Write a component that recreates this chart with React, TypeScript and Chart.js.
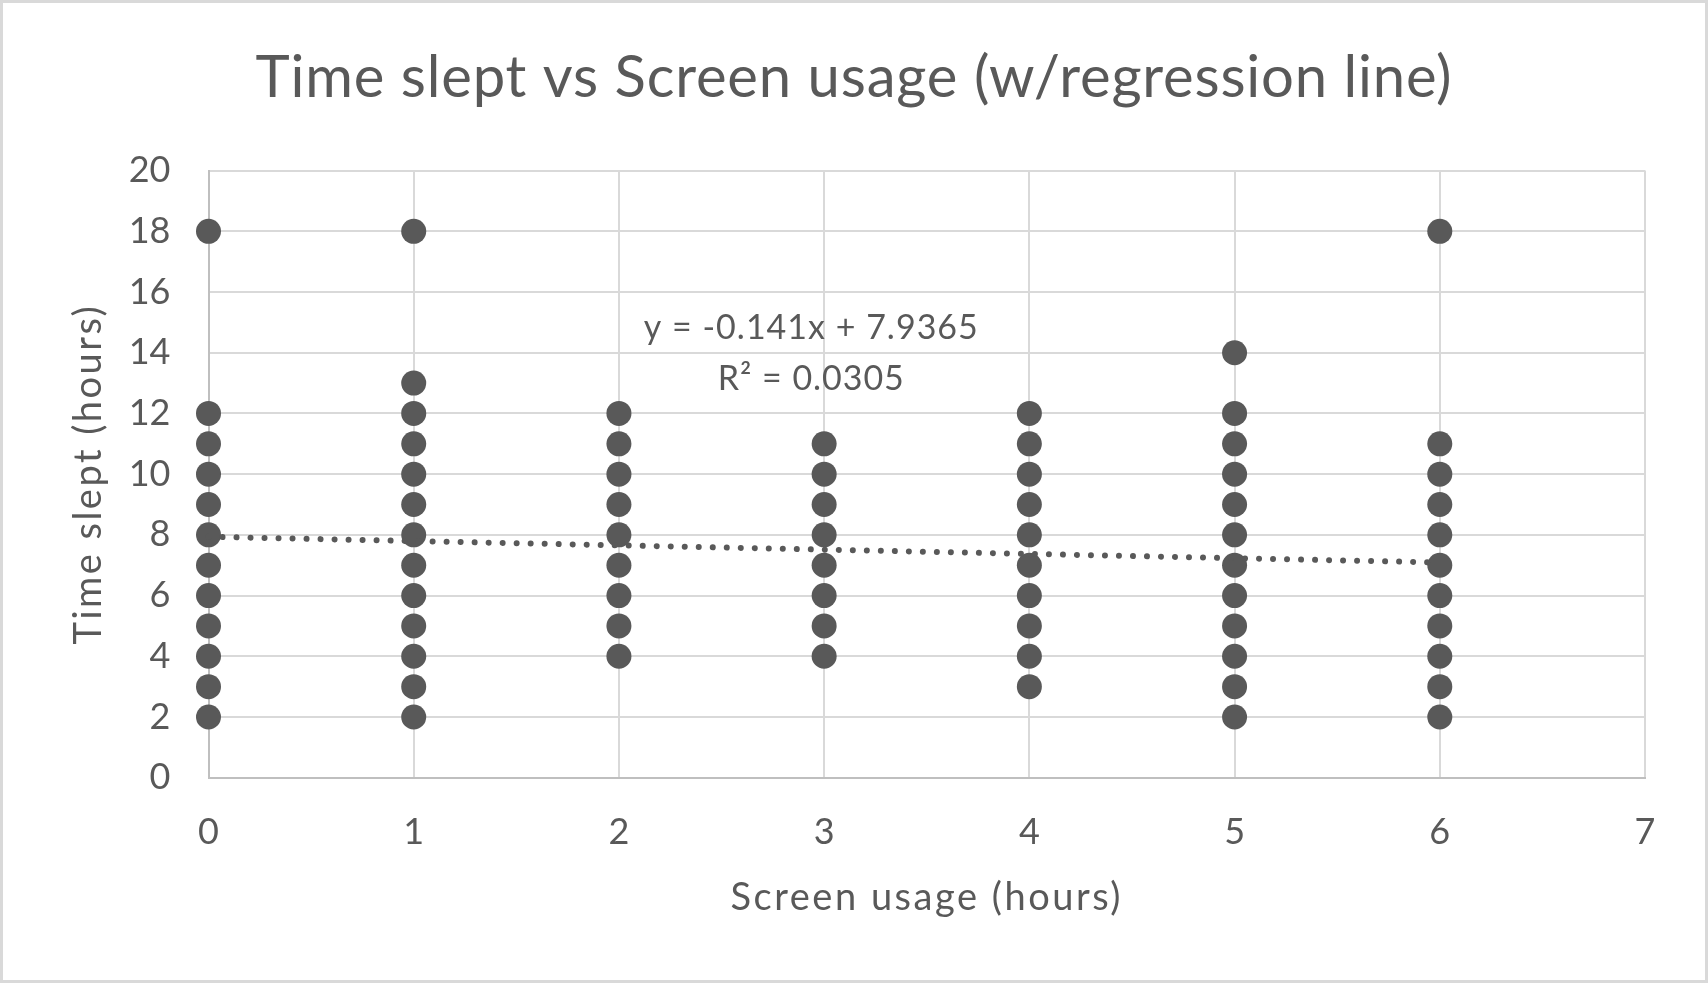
import React, { useEffect, useRef } from 'react';
import { Chart, registerables } from 'chart.js';

Chart.register(...registerables);

// ---- data ----
const screenHours = [0, 1, 2, 3, 4, 5, 6];
const sleptAt0 = [18, 12, 11, 10, 9, 8, 7, 6, 5, 4, 3, 2];
const sleptAt1 = [18, 13, 12, 11, 10, 9, 8, 7, 6, 5, 4, 3, 2];
const sleptAt2 = [12, 11, 10, 9, 8, 7, 6, 5, 4];
const sleptAt3 = [11, 10, 9, 8, 7, 6, 5, 4];
const sleptAt4 = [12, 11, 10, 9, 8, 7, 6, 5, 4, 3];
const sleptAt5 = [14, 12, 11, 10, 9, 8, 7, 6, 5, 4, 3, 2];
const sleptAt6 = [18, 11, 10, 9, 8, 7, 6, 5, 4, 3, 2];
const sleptColumns = [sleptAt0, sleptAt1, sleptAt2, sleptAt3, sleptAt4, sleptAt5, sleptAt6];

const trendSlope = -0.141;
const trendIntercept = 7.9365;
const trendFrom = 0;
const trendTo = 6;
const equationText = 'y = -0.141x + 7.9365';
const r2Text = 'R\u00B2 = 0.0305';

const xTickValues = [0, 1, 2, 3, 4, 5, 6, 7];
const yTickValues = [0, 2, 4, 6, 8, 10, 12, 14, 16, 18, 20];

const titleText = 'Time slept vs Screen usage (w/regression line)';
const xTitleText = 'Screen usage (hours)';
const yTitleText = 'Time slept (hours)';

// ---- style ----
const TEXT = '#595959';
const MARK = '#595959';
const GRID = '#d9d9d9';
const AXIS = '#bfbfbf';
const FONT = 'Lato';

const W = 1708;
const H = 983;

const TITLE_SIZE = 58;
const TICK_SIZE = 36;
const AXIS_TITLE_SIZE = 38;
const LABEL_SIZE = 34;

// target visual extents of texts (px)
const TITLE_EXTENT = 1196;
const X_TITLE_EXTENT = 390;
const Y_TITLE_EXTENT = 338;
const EQ_EXTENT = 334;
const R2_EXTENT = 186;

// label anchor in data coordinates
const labelX = 2.935;
const labelY1 = 14.82;
const labelY2 = 13.14;

const points = screenHours.flatMap((h, i) => sleptColumns[i].map((v) => ({ x: h, y: v })));
const trendPoints = [
  { x: trendFrom, y: trendIntercept + trendSlope * trendFrom },
  { x: trendTo, y: trendIntercept + trendSlope * trendTo },
];

function spacingFor(ctx: CanvasRenderingContext2D, text: string, font: string, target: number) {
  ctx.save();
  ctx.font = font;
  try { (ctx as any).letterSpacing = '0px'; } catch (e) {}
  const w = ctx.measureText(text).width;
  ctx.restore();
  return (target - w) / Math.max(1, text.length - 1);
}

function wrapSpacing(obj: any, method: string, ctx: CanvasRenderingContext2D, spacing: number) {
  if (!obj || !obj[method]) return;
  obj.__spacing = obj.__spacing || {};
  obj.__spacing[method] = spacing;
  if (obj.__wrapped && obj.__wrapped[method]) return;
  const orig = obj[method];
  obj[method] = function (...args: any[]) {
    ctx.save();
    try { (ctx as any).letterSpacing = obj.__spacing[method] + 'px'; } catch (e) {}
    const r = orig.apply(this, args);
    ctx.restore();
    return r;
  };
  obj.__wrapped = obj.__wrapped || {};
  obj.__wrapped[method] = true;
}

const framePlugin = {
  id: 'frame',
  beforeDraw(chart: any) {
    const ctx = chart.ctx as CanvasRenderingContext2D;
    ctx.save();
    ctx.fillStyle = '#ffffff';
    ctx.fillRect(0, 0, chart.width, chart.height);
    ctx.restore();
    const tSp = spacingFor(ctx, titleText, `${TITLE_SIZE}px ${FONT}`, TITLE_EXTENT);
    const xSp = spacingFor(ctx, xTitleText, `${AXIS_TITLE_SIZE}px ${FONT}`, X_TITLE_EXTENT);
    const ySp = spacingFor(ctx, yTitleText, `${AXIS_TITLE_SIZE}px ${FONT}`, Y_TITLE_EXTENT);
    wrapSpacing(chart.titleBlock, 'draw', ctx, tSp);
    wrapSpacing(chart.scales.x, 'drawTitle', ctx, xSp);
    wrapSpacing(chart.scales.y, 'drawTitle', ctx, ySp);
  },
  afterDatasetsDraw(chart: any) {
    const ctx = chart.ctx as CanvasRenderingContext2D;
    const xs = chart.scales.x;
    const ys = chart.scales.y;
    const font = `${LABEL_SIZE}px ${FONT}`;
    const lines: [string, number, number][] = [
      [equationText, labelY1, EQ_EXTENT],
      [r2Text, labelY2, R2_EXTENT],
    ];
    for (const [text, yv, ext] of lines) {
      const sp = spacingFor(ctx, text, font, ext);
      ctx.save();
      ctx.font = font;
      try { (ctx as any).letterSpacing = sp + 'px'; } catch (e) {}
      ctx.fillStyle = TEXT;
      ctx.textAlign = 'center';
      ctx.textBaseline = 'middle';
      ctx.fillText(text, xs.getPixelForValue(labelX) + sp / 2, ys.getPixelForValue(yv));
      ctx.restore();
    }
  },
  afterDraw(chart: any) {
    const ctx = chart.ctx as CanvasRenderingContext2D;
    ctx.save();
    ctx.strokeStyle = GRID;
    ctx.lineWidth = 3;
    ctx.strokeRect(1.5, 1.5, chart.width - 3, chart.height - 3);
    ctx.restore();
  },
};

export default function App() {
  const ref = useRef<HTMLCanvasElement>(null);
  useEffect(() => {
    const canvas = ref.current;
    if (!canvas) return;
    const chart = new Chart(canvas, {
      type: 'scatter',
      data: {
        datasets: [
          {
            label: 'Trend',
            data: trendPoints,
            showLine: true,
            borderColor: MARK,
            borderWidth: 6,
            borderDash: [0.01, 14],
            borderCapStyle: 'round',
            pointRadius: 0,
            pointHoverRadius: 0,
            clip: false,
            order: 0,
          } as any,
          {
            label: 'Time slept',
            data: points,
            backgroundColor: MARK,
            borderWidth: 0,
            pointRadius: 12.5,
            pointHoverRadius: 12.5,
            clip: false,
            order: 1,
          } as any,
        ],
      },
      plugins: [framePlugin],
      options: {
        responsive: false,
        animation: false,
        devicePixelRatio: 1,
        events: [],
        layout: { padding: 0 },
        plugins: {
          legend: { display: false },
          tooltip: { enabled: false },
          title: {
            display: true,
            text: titleText,
            color: TEXT,
            font: { family: FONT, size: TITLE_SIZE, weight: 'normal', lineHeight: 1.2 },
            padding: { top: 43, bottom: 58 },
          },
        },
        scales: {
          x: {
            type: 'linear',
            position: 'bottom',
            min: xTickValues[0],
            max: xTickValues[xTickValues.length - 1],
            afterBuildTicks: (s: any) => { s.ticks = xTickValues.map((v) => ({ value: v })); },
            afterFit: (s: any) => { s.height = H - 777.7; },
            grid: { color: GRID, lineWidth: 2, drawTicks: false },
            border: { color: AXIS, width: 2 },
            ticks: {
              color: TEXT,
              padding: 33,
              font: { family: FONT, size: TICK_SIZE },
            },
            title: {
              display: true,
              text: xTitleText,
              color: TEXT,
              font: { family: FONT, size: AXIS_TITLE_SIZE, lineHeight: 1.2 },
              padding: { top: 0, bottom: 62 },
            },
          },
          y: {
            type: 'linear',
            position: 'left',
            min: yTickValues[0],
            max: yTickValues[yTickValues.length - 1],
            afterBuildTicks: (s: any) => { s.ticks = yTickValues.map((v) => ({ value: v })); },
            afterFit: (s: any) => { s.width = 208.5; },
            grid: { color: GRID, lineWidth: 2, drawTicks: false },
            border: { color: AXIS, width: 2 },
            ticks: {
              color: TEXT,
              padding: 38,
              font: { family: FONT, size: TICK_SIZE },
            },
            title: {
              display: true,
              text: yTitleText,
              color: TEXT,
              font: { family: FONT, size: AXIS_TITLE_SIZE, lineHeight: 1.2 },
              padding: { top: 66, bottom: 0 },
            },
          },
          yRight: {
            type: 'linear',
            position: 'right',
            display: true,
            grid: { display: false },
            border: { display: false },
            ticks: { display: false },
            afterFit: (s: any) => { s.width = W - 1645; },
          },
        },
      } as any,
    });
    return () => chart.destroy();
  }, []);
  return (
    <div style={{ position: 'fixed', left: 0, top: 0, width: W, height: H, background: '#ffffff' }}>
      <canvas ref={ref} width={W} height={H} style={{ display: 'block', width: W, height: H }} />
    </div>
  );
}
